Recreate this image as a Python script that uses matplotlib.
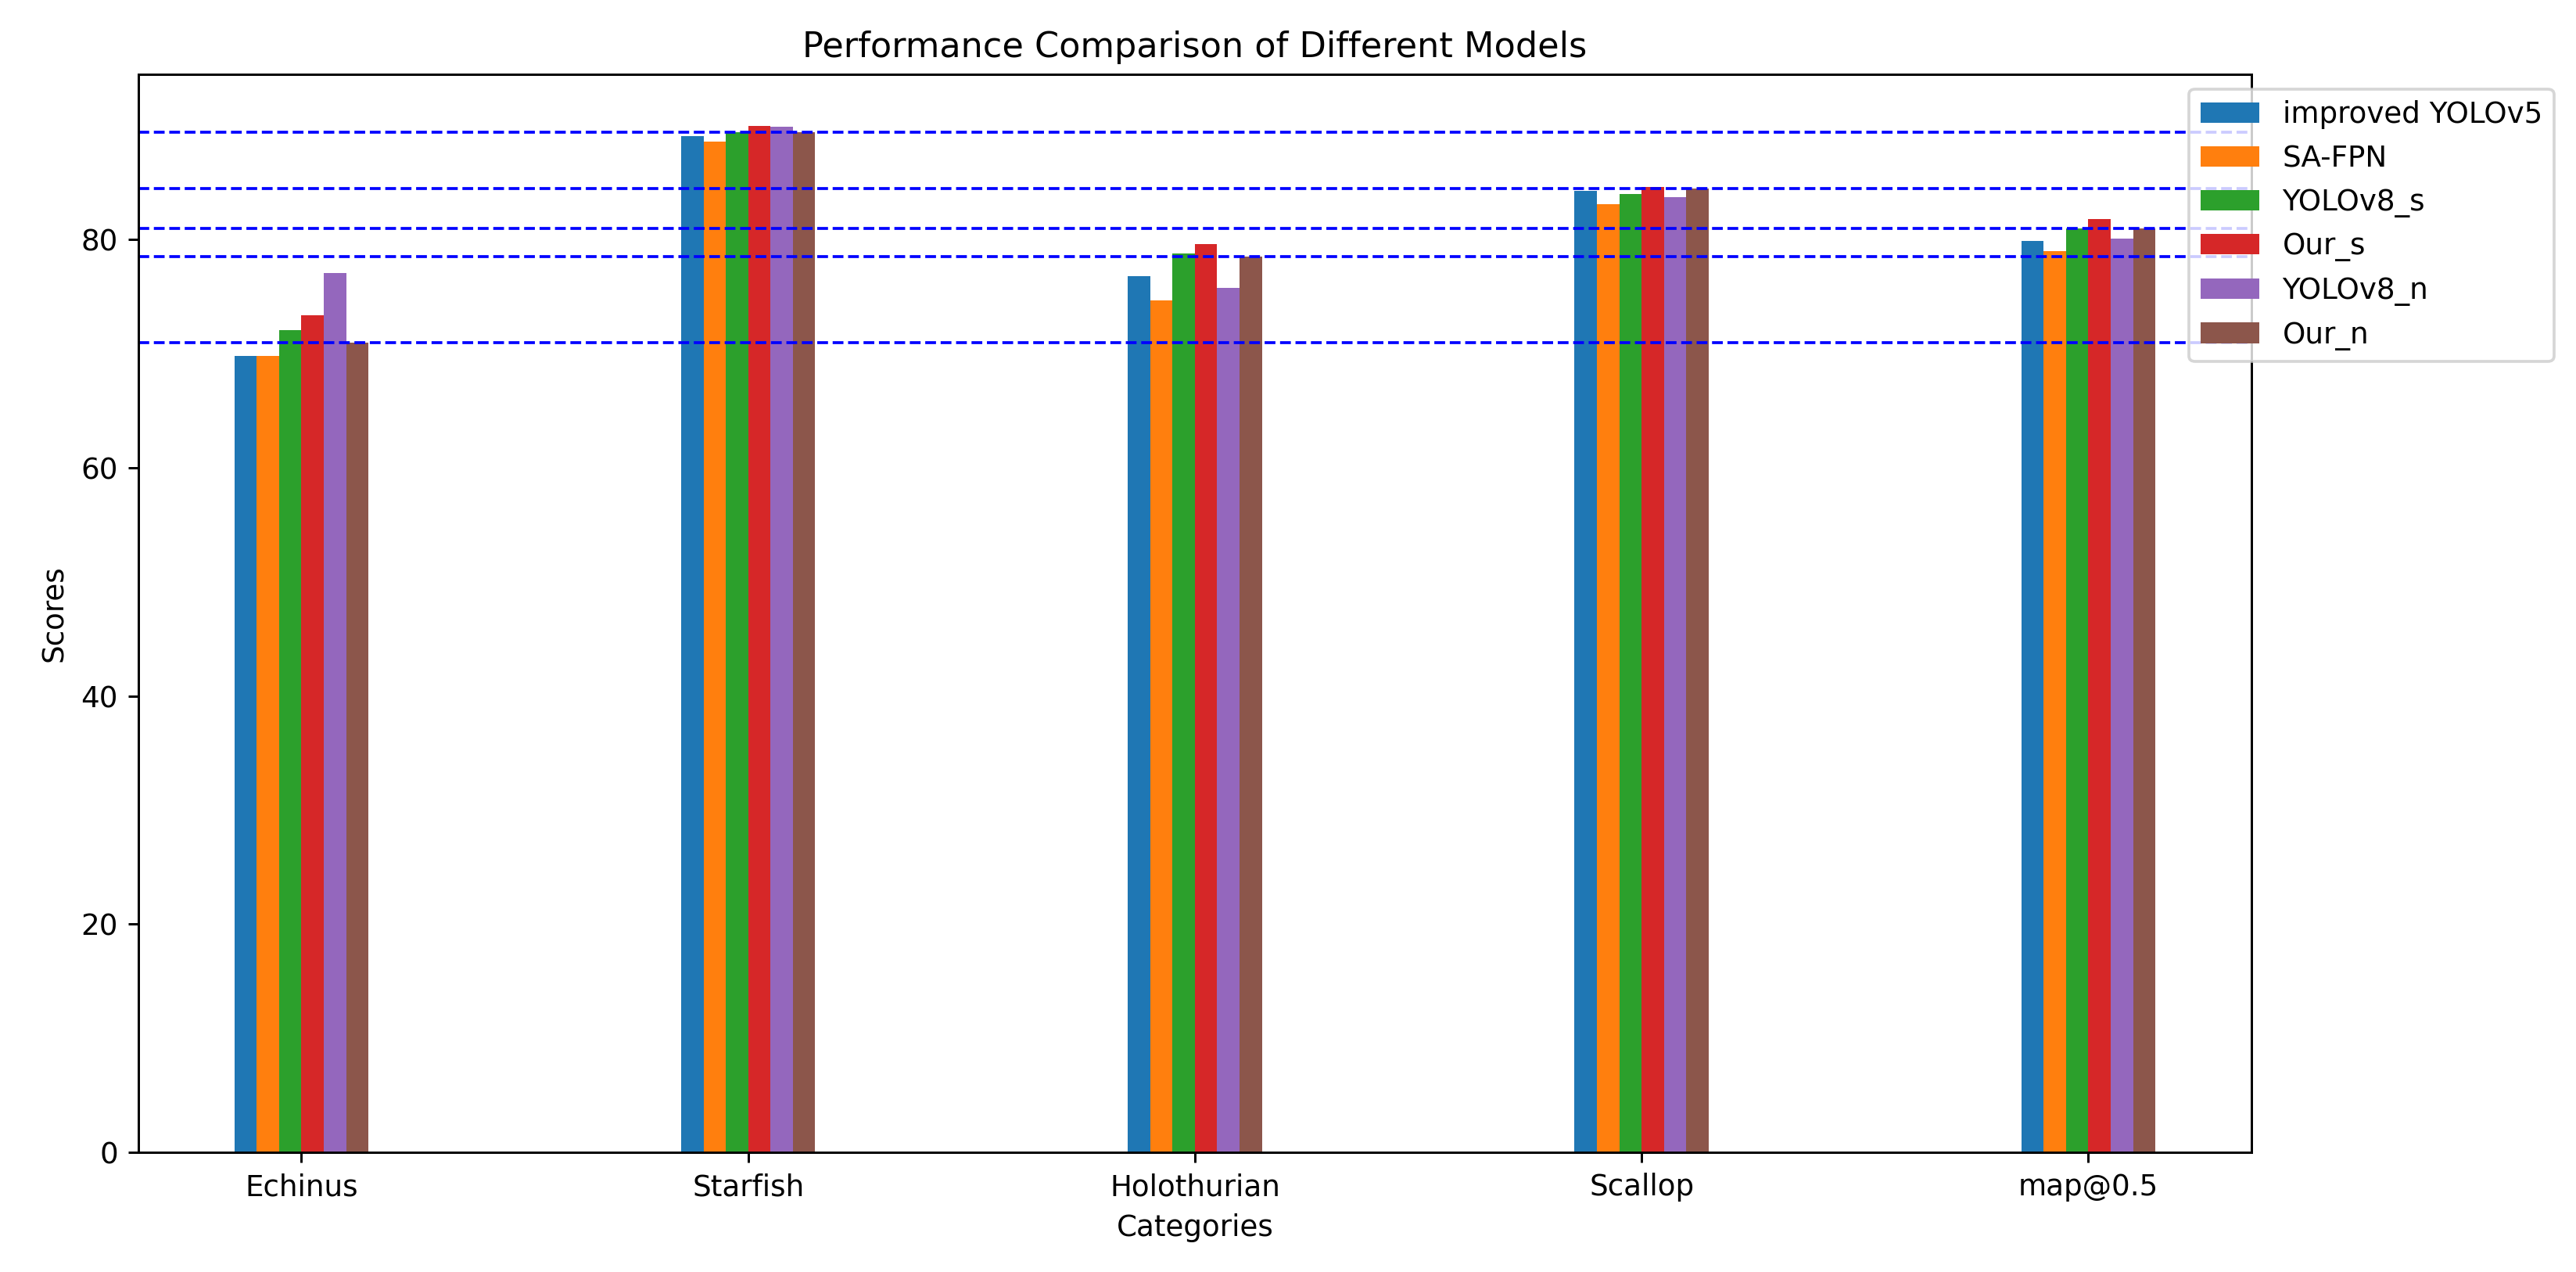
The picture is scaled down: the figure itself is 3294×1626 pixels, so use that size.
import numpy as np
from matplotlib import pyplot as plt

categories = ["Echinus", "Starfish", "Holothurian", "Scallop", "map@0.5"]
models = ["improved YOLOv5", "SA-FPN", "YOLOv8_s", "Our_s", "YOLOv8_n", "Our_n"]

improved_yolov5 = [69.8, 89.1, 76.8, 84.3, 79.9]
sa_fpn = [69.8, 88.6, 74.7, 83.1, 79.0]
yolov8_s = [72.1, 89.4, 78.8, 84.0, 81.0]
our_s = [73.4, 90.0, 79.6, 84.6, 81.8]
yolov8_n = [77.1, 89.9, 75.8, 83.7, 80.1]
our_n = [71.0, 89.4, 78.5, 84.5, 81.0]

scores = [improved_yolov5, sa_fpn, yolov8_s, our_s, yolov8_n, our_n]

DPI = 268
fig = plt.figure(figsize=(3294/DPI, 1626/DPI), dpi=DPI)
fig.subplots_adjust(left=0.0537, right=0.874, top=0.9416, bottom=0.0941)
ax = fig.add_subplot(111)

x = np.arange(len(categories))
width = 0.05
for i, (name, vals) in enumerate(zip(models, scores)):
    ax.bar(x + (i - 2.5) * width, vals, width, label=name)

# reference lines at Our_n scores
for v in our_n:
    ax.axhline(v, color="blue", linestyle="--", linewidth=1)

ax.set_xticks(x)
ax.set_xticklabels(categories)
ax.set_xlabel("Categories")
ax.set_ylabel("Scores")
ax.set_title("Performance Comparison of Different Models")
ax.legend(loc="upper right", bbox_to_anchor=(1.15, 1))

fig.savefig("out.png", dpi=DPI)
